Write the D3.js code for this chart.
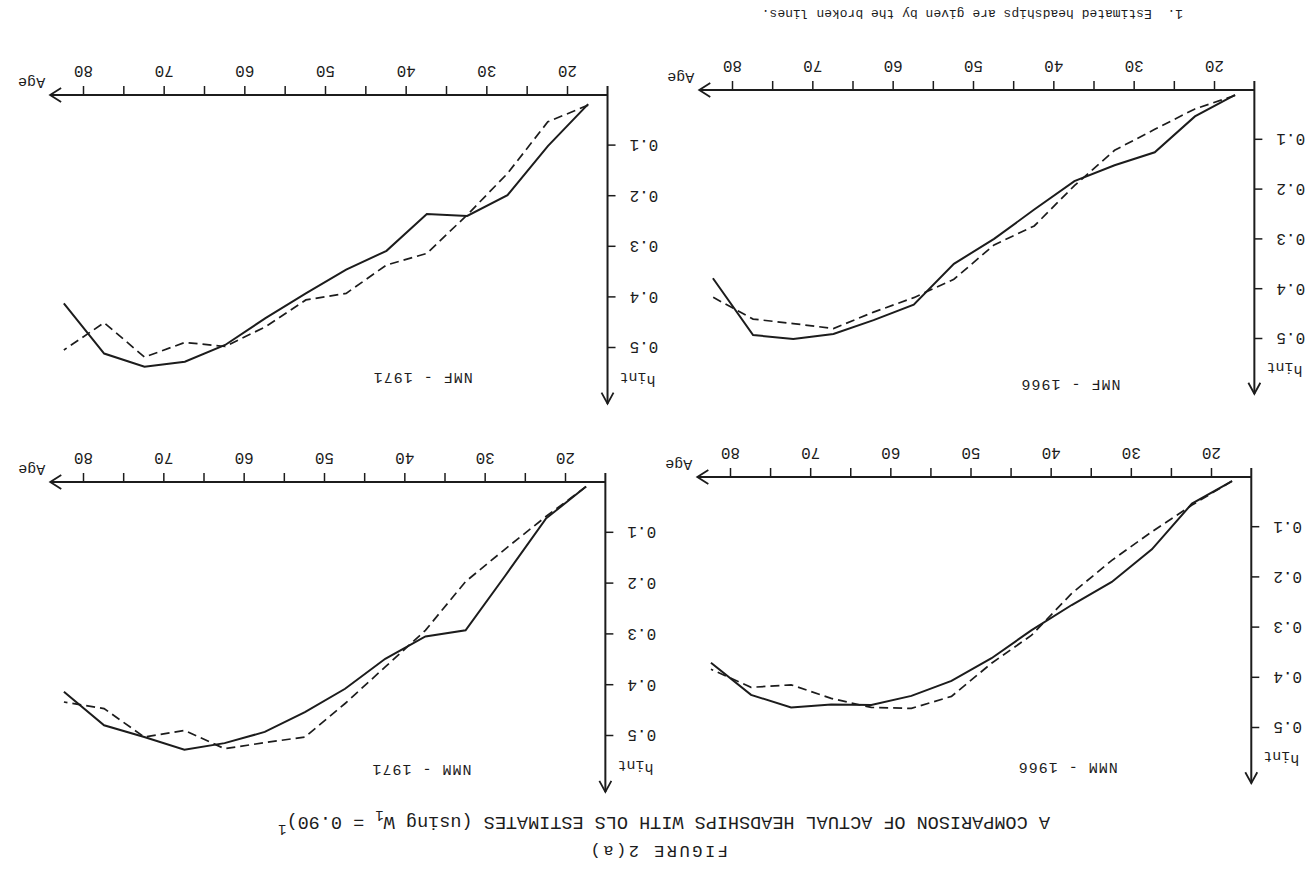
<!DOCTYPE html>
<html>
<head>
<meta charset="utf-8">
<script src="https://cdn.jsdelivr.net/npm/d3@7"></script>
<style>
body { margin: 0; background: #fff; }
</style>
</head>
<body>
<div id="chart"></div>
<script>
// age group midpoints (years)
var ages = [17.5, 22.5, 27.5, 32.5, 37.5, 42.5, 47.5, 52.5, 57.5, 62.5, 67.5, 72.5, 77.5, 82.5];
var ageTicks = [20, 25, 30, 35, 40, 45, 50, 55, 60, 65, 70, 75, 80];
var ageLabels = [20, 30, 40, 50, 60, 70, 80];
var hTicks = [0.1, 0.2, 0.3, 0.4, 0.5];

// headship rates: actual (solid) and OLS estimates (broken)
var nmm1966Actual = [0.008, 0.053, 0.144, 0.209, 0.255, 0.305, 0.361, 0.406, 0.436, 0.454, 0.453, 0.459, 0.434, 0.370];
var nmm1966Est    = [0.008, 0.056, 0.109, 0.166, 0.232, 0.315, 0.371, 0.437, 0.461, 0.459, 0.441, 0.414, 0.419, 0.383];
var nmm1971Actual = [0.009, 0.072, 0.183, 0.292, 0.304, 0.348, 0.407, 0.453, 0.492, 0.514, 0.527, 0.502, 0.479, 0.413];
var nmm1971Est    = [0.009, 0.068, 0.131, 0.196, 0.292, 0.364, 0.436, 0.502, 0.513, 0.525, 0.489, 0.502, 0.446, 0.433];
var nmf1966Actual = [0.010, 0.053, 0.125, 0.151, 0.183, 0.240, 0.299, 0.349, 0.431, 0.462, 0.490, 0.500, 0.492, 0.378];
var nmf1966Est    = [0.011, 0.038, 0.079, 0.121, 0.192, 0.273, 0.311, 0.380, 0.417, 0.446, 0.479, 0.469, 0.460, 0.416];
var nmf1971Actual = [0.018, 0.101, 0.198, 0.239, 0.235, 0.308, 0.345, 0.392, 0.441, 0.494, 0.527, 0.537, 0.511, 0.412];
var nmf1971Est    = [0.020, 0.053, 0.155, 0.237, 0.313, 0.336, 0.392, 0.405, 0.458, 0.497, 0.489, 0.518, 0.450, 0.504];

var panelTitles = ["NMM - 1966", "NMM - 1971", "NMF - 1966", "NMF - 1971"];

// page is drawn upright, then the whole sheet is turned over like the scan
var panels = [
  {title: panelTitles[0], actual: nmm1966Actual, est: nmm1966Est, x20: 102, x80: 583, y0: 413, y05: 162, titleH: 0.569},
  {title: panelTitles[1], actual: nmm1971Actual, est: nmm1971Est, x20: 748, x80: 1230, y0: 408, y05: 154, titleH: 0.558},
  {title: panelTitles[2], actual: nmf1966Actual, est: nmf1966Est, x20: 99, x80: 581, y0: 800, y05: 551, titleH: 0.582},
  {title: panelTitles[3], actual: nmf1971Actual, est: nmf1971Est, x20: 746, x80: 1230, y0: 795, y05: 542, titleH: 0.55}
];

var ink = "#1c1c1c";
var font = "'Liberation Mono', 'DejaVu Sans Mono', monospace";

var svg = d3.select("#chart").append("svg")
  .attr("width", 1314)
  .attr("height", 890);

svg.append("rect").attr("width", 1314).attr("height", 890).attr("fill", "#fff");

var page = svg.append("g")
  .attr("transform", "rotate(180,657,445)")
  .attr("font-family", font)
  .attr("fill", ink);

page.append("text")
  .attr("x", 656).attr("y", 44)
  .attr("text-anchor", "middle")
  .attr("font-size", "17px")
  .attr("letter-spacing", "2.5px")
  .text("FIGURE 2(a)");

var title = page.append("text")
  .attr("x", 650).attr("y", 73)
  .attr("text-anchor", "middle")
  .attr("font-size", "18.5px");
title.append("tspan").text("A COMPARISON OF ACTUAL HEADSHIPS WITH OLS ESTIMATES (using W");
title.append("tspan").attr("dy", 6).attr("font-size", "14px").text("1");
title.append("tspan").attr("dy", -6).text(" = 0.90)");
title.append("tspan").attr("dy", -8).attr("font-size", "14px").text("1");

page.append("text")
  .attr("x", 131).attr("y", 880)
  .attr("font-size", "13px")
  .attr("xml:space", "preserve")
  .text("1.  Estimated headships are given by the broken lines.");

var originAge = 15.1, arrowAge = 84.2, arrowH = 0.61;

panels.forEach(function(p) {
  var x = d3.scaleLinear().domain([20, 80]).range([p.x20, p.x80]);
  var y = d3.scaleLinear().domain([0, 0.5]).range([p.y0, p.y05]);
  var g = page.append("g");

  var xAxis = d3.axisBottom(x)
    .tickValues(ageTicks)
    .tickSize(9)
    .tickPadding(9)
    .tickFormat(d => ageLabels.indexOf(d) >= 0 ? d : "");

  var yAxis = d3.axisLeft(y)
    .tickValues(hTicks)
    .tickSize(8)
    .tickPadding(14)
    .tickFormat(d3.format(".1f"));

  var gx = g.append("g").attr("transform", `translate(0,${y(0)})`).call(xAxis);
  var gy = g.append("g").attr("transform", `translate(${x(originAge)},0)`).call(yAxis);

  [gx, gy].forEach(function(a) {
    a.select(".domain").remove();
    a.attr("font-family", font).attr("font-size", "16px");
    a.selectAll("line").attr("stroke", ink).attr("stroke-width", 1.5);
    a.selectAll("text").attr("fill", ink);
  });

  // axes with open arrow heads
  var ox = x(originAge), oy = y(0), ax = x(arrowAge), ay = y(arrowH);
  g.append("path")
    .attr("d", `M${ox},${oy + 9}L${ox},${ay}M${ox},${oy}L${ax},${oy}`)
    .attr("fill", "none").attr("stroke", ink).attr("stroke-width", 2);
  g.append("path")
    .attr("d", `M${ax - 11},${oy - 7}L${ax},${oy}L${ax - 11},${oy + 7}M${ox - 6},${ay + 11}L${ox},${ay}L${ox + 6},${ay + 11}`)
    .attr("fill", "none").attr("stroke", ink).attr("stroke-width", 1.8);

  g.append("text")
    .attr("x", ax + 5).attr("y", oy + 17)
    .attr("font-size", "15px")
    .text("Age");

  var hl = g.append("text")
    .attr("x", ox - 12).attr("y", ay + 28)
    .attr("text-anchor", "end")
    .attr("font-size", "15px");
  hl.append("tspan").text("h");
  hl.append("tspan").attr("dy", 3).text("int");

  g.append("text")
    .attr("x", x(38)).attr("y", y(p.titleH))
    .attr("text-anchor", "middle")
    .attr("font-size", "15px")
    .attr("letter-spacing", "1px")
    .text(p.title);

  var line = d3.line()
    .x((d, i) => x(ages[i]))
    .y(d => y(d));

  g.append("path").datum(p.actual)
    .attr("d", line)
    .attr("fill", "none").attr("stroke", ink).attr("stroke-width", 2);

  g.append("path").datum(p.est)
    .attr("d", line)
    .attr("fill", "none").attr("stroke", ink).attr("stroke-width", 1.7)
    .attr("stroke-dasharray", "9,5");
});
</script>
</body>
</html>
